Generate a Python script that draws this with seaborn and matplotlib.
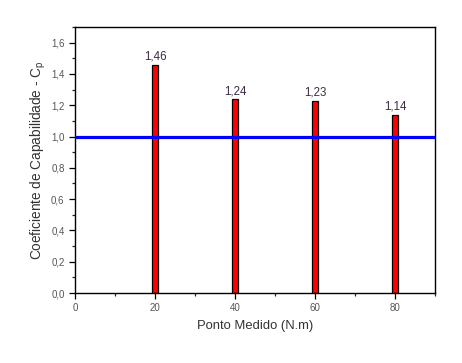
import pandas as pd
import matplotlib.pyplot as plt
import seaborn as sns
from matplotlib.ticker import MultipleLocator, FuncFormatter

# Dados
pontos = [20, 40, 60, 80]
cp = [1.46, 1.24, 1.23, 1.14]
rotulos = ["1,46", "1,24", "1,23", "1,14"]
limite = 1.0

df = pd.DataFrame({"ponto": pontos, "cp": cp})

sns.set_style("white")
plt.rcParams['font.family'] = ['Liberation Sans', 'DejaVu Sans']

fig = plt.figure(figsize=(4.62, 3.63), dpi=100)
ax = fig.add_axes([0.1623, 0.1928, 0.7793, 0.7328])

sns.barplot(data=df, x="ponto", y="cp", native_scale=True, width=0.075,
            color="#FF0000", edgecolor="black", linewidth=0.9, saturation=1, ax=ax)

ax.axhline(limite, color="#0000FF", linewidth=2.3, zorder=5)

for x, y, t in zip(pontos, cp, rotulos):
    ax.text(x, y + 0.012, t, ha="center", va="bottom", fontsize=8.3, color="#3d2b45")

ax.set_xlim(0, 90)
ax.set_ylim(0, 1.7)
ax.xaxis.set_major_locator(MultipleLocator(20))
ax.xaxis.set_minor_locator(MultipleLocator(10))
ax.yaxis.set_major_locator(MultipleLocator(0.2))
ax.yaxis.set_minor_locator(MultipleLocator(0.1))
ax.yaxis.set_major_formatter(FuncFormatter(lambda v, p: f"{v:.1f}".replace(".", ",")))
ax.xaxis.set_major_formatter(FuncFormatter(lambda v, p: f"{v:.0f}"))

ax.tick_params(which="major", direction="out", length=4, width=0.9, colors="black",
               labelsize=7, labelcolor="#555555", left=True, bottom=True)
ax.tick_params(which="minor", direction="out", length=2.5, width=0.9, left=True, bottom=True)

for s in ax.spines.values():
    s.set_color("black")
    s.set_linewidth(1.0)

ax.set_xlabel("Ponto Medido (N.m)", fontsize=9.4, color="#333333", labelpad=5)
ax.set_ylabel(r"Coeficiente de Capabilidade - $\mathregular{C_p}$", fontsize=9.8,
              color="#333333", labelpad=2)

fig.savefig("out.png", dpi=100)
